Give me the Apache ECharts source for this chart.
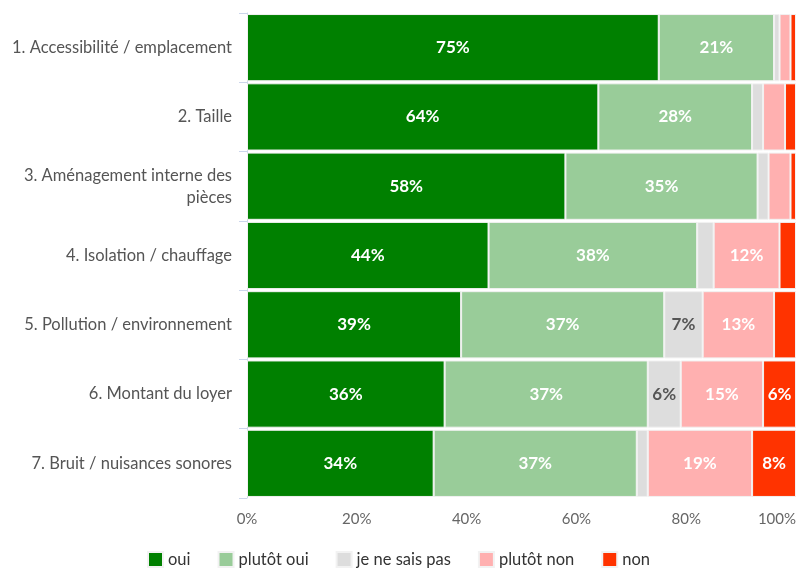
<!DOCTYPE html>
<html>
<head>
<meta charset="utf-8">
<script src="https://cdn.jsdelivr.net/npm/echarts@6/dist/echarts.min.js"></script>
<style>
    html, body { margin: 0; padding: 0; background: #fff; }
    #main { width: 797px; height: 568px; }
</style>
</head>
<body>
<div id="main"></div>
<script>
var categories = [
    '1. Accessibilité / emplacement',
    '2. Taille',
    '3. Aménagement interne des\npièces',
    '4. Isolation / chauffage',
    '5. Pollution / environnement',
    '6. Montant du loyer',
    '7. Bruit / nuisances sonores'
];
var seriesNames = ['oui', 'plutôt oui', 'je ne sais pas', 'plutôt non', 'non'];
var oui = [75, 64, 58, 44, 39, 36, 34];
var plutotOui = [21, 28, 35, 38, 37, 37, 37];
var neSaisPas = [1, 2, 2, 3, 7, 6, 2];
var plutotNon = [2, 4, 4, 12, 13, 15, 19];
var non = [1, 2, 1, 3, 4, 6, 8];
var xTicks = [0, 20, 40, 60, 80, 100];

var colors = ['#008000', '#99cc99', '#dddddd', '#ffb0b0', '#ff3300'];
var labelColors = ['#ffffff', '#ffffff', '#555555', '#ffffff', '#ffffff'];
var values = [oui, plutotOui, neSaisPas, plutotNon, non];
var fontFam = 'Lato';

var dom = document.getElementById('main');
var myChart = echarts.init(dom);
var option = null;

var series = [];
for (var i = 0; i < seriesNames.length; i++) {
    series.push({
        name: seriesNames[i],
        type: 'bar',
        stack: 'total',
        barCategoryGap: '3%',
        data: values[i],
        itemStyle: {
            color: colors[i],
            borderColor: '#f2f2f2',
            borderWidth: 1
        },
        label: {
            show: true,
            position: 'inside',
            color: labelColors[i],
            fontWeight: 'bold',
            fontSize: 17,
            fontFamily: fontFam,
            formatter: function (p) {
                return p.value >= 6 ? p.value + '%' : '';
            }
        },
        emphasis: { disabled: true }
    });
}

option = {
    animation: false,
    color: colors,
    grid: {
        left: 247,
        right: 1,
        top: 13,
        bottom: 70,
        containLabel: false,
        outerBoundsMode: 'none'
    },
    legend: {
        bottom: -5,
        left: 'center',
        itemWidth: 15,
        itemHeight: 15,
        itemGap: 27,
        icon: 'rect',
        textStyle: {
            color: '#333',
            fontSize: 16.5,
            fontFamily: fontFam
        },
        data: seriesNames
    },
    xAxis: {
        type: 'value',
        min: 0,
        max: 100,
        interval: 20,
        axisLine: { show: false },
        axisTick: { show: false },
        splitLine: { show: false },
        axisLabel: {
            color: '#666',
            fontSize: 15,
            fontFamily: fontFam,
            margin: 14,
            alignMaxLabel: 'right',
            formatter: function (v) {
                return xTicks.indexOf(v) >= 0 ? v + '%' : '';
            }
        }
    },
    yAxis: {
        type: 'category',
        inverse: true,
        data: categories,
        axisLine: { show: true, lineStyle: { color: '#ccd6eb' } },
        axisTick: { show: true, length: 8, lineStyle: { color: '#ccd6eb' } },
        axisLabel: {
            color: '#555',
            fontSize: 16.5,
            fontFamily: fontFam,
            margin: 15,
            lineHeight: 22,
            align: 'right'
        }
    },
    series: series
};

if (option && typeof option === "object") {
    myChart.setOption(option, true);
}
</script>
</body>
</html>
